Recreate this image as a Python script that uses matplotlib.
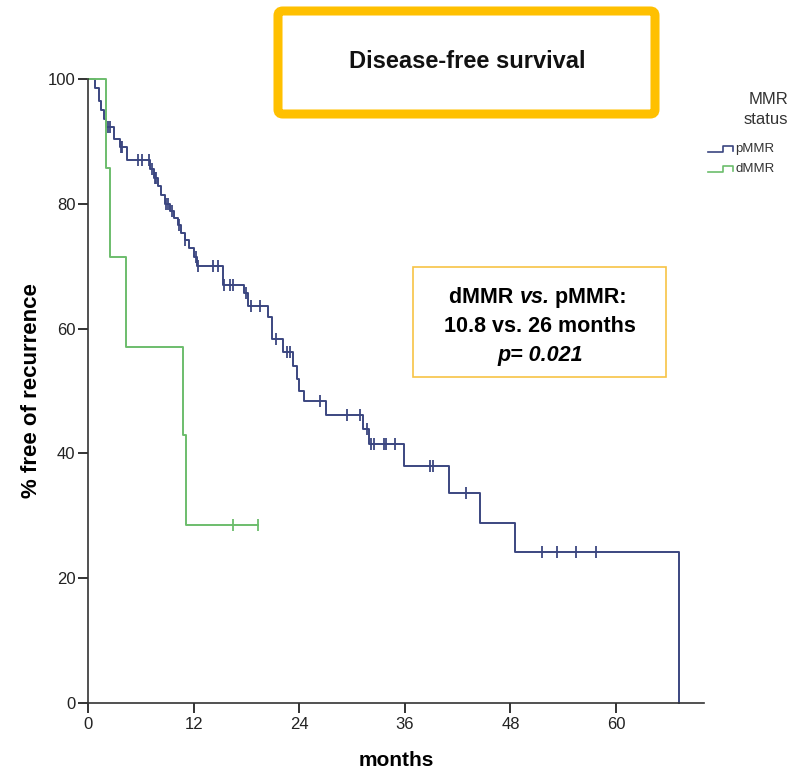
import numpy as np
import matplotlib
matplotlib.use("Agg")
import matplotlib.pyplot as plt
from matplotlib.lines import Line2D
from matplotlib.patches import FancyBboxPatch, Rectangle

plt.rcParams['font.family'] = ['Liberation Sans', 'DejaVu Sans']

# pMMR: event times (months) and survival (%) right after each event
pmmr_event_t = [0.8, 1.3, 1.5, 1.8, 2.1, 2.9, 3.6, 4.4, 7.1, 7.5, 7.9, 8.3, 8.8,
                9.3, 9.8, 10.2, 10.6, 11.0, 11.5, 12.0, 12.4, 15.3, 17.7, 18.2,
                20.5, 20.9, 22.2, 23.3, 23.7, 24.0, 24.5, 27.1, 31.3, 31.9, 35.9,
                41.0, 44.5, 48.5, 67.2]
pmmr_surv = [98.6, 96.4, 95.0, 93.6, 92.3, 90.4, 89.1, 87.0, 85.6, 84.2, 82.8,
             81.4, 80.0, 78.9, 77.8, 76.6, 75.4, 74.2, 72.9, 71.5, 70.0, 67.0,
             65.7, 63.6, 61.9, 58.3, 56.3, 54.0, 52.0, 50.0, 48.4, 46.2, 43.9,
             41.5, 38.0, 33.7, 28.9, 24.2, 0.0]
pmmr_cens_t = [2.3, 2.5, 3.8, 3.9, 5.7, 6.1, 6.9, 7.3, 7.6, 7.7, 8.9, 9.1, 9.5,
               10.3, 11.0, 12.3, 12.5, 14.2, 14.8, 15.4, 16.1, 16.5, 18.0, 18.5,
               19.5, 21.4, 22.6, 22.9, 26.4, 29.4, 30.9, 31.7, 32.2, 32.5, 33.6,
               33.9, 34.9, 38.9, 39.2, 43.0, 51.6, 53.3, 55.5, 57.7]

# dMMR
dmmr_event_t = [2.1, 2.5, 4.3, 10.8, 11.1]
dmmr_surv = [85.7, 71.4, 57.1, 42.9, 28.6]
dmmr_cens_t = [16.5, 19.3]

x_ticks = [0, 12, 24, 36, 48, 60]
y_ticks = [0, 20, 40, 60, 80, 100]

blue = '#3b4680'
green = '#6cbd6c'


def km_xy(event_t, surv, last_t):
    xs = [0.0] + list(event_t)
    ys = [100.0] + list(surv)
    if last_t > xs[-1]:
        xs.append(last_t)
        ys.append(ys[-1])
    return np.array(xs), np.array(ys)


def surv_at(event_t, surv, t):
    idx = np.searchsorted(event_t, t, side='right')
    vals = np.concatenate([[100.0], surv])
    return vals[idx]


fig = plt.figure(figsize=(7.92, 7.71), dpi=100)
ax = fig.add_axes([88 / 792, 1 - 703 / 771, 616 / 792, 624 / 771])

for ev, sv, cens, col in [(pmmr_event_t, pmmr_surv, pmmr_cens_t, blue),
                          (dmmr_event_t, dmmr_surv, dmmr_cens_t, green)]:
    last = max(max(ev), max(cens))
    xs, ys = km_xy(ev, sv, last)
    ax.step(xs, ys, where='post', color=col, lw=1.4, clip_on=False)
    cy = surv_at(np.array(ev), np.array(sv), np.array(cens))
    ax.plot(cens, cy, ls='none', marker='|', ms=9, mew=1.3, color=col, clip_on=False)

ax.set_xlim(0, 70)
ax.set_ylim(0, 100)
ax.set_xticks(x_ticks)
ax.set_yticks(y_ticks)
for s in ['top', 'right']:
    ax.spines[s].set_visible(False)
for s in ['left', 'bottom']:
    ax.spines[s].set_color('#333333')
    ax.spines[s].set_linewidth(1.2)
ax.tick_params(axis='both', direction='out', length=7, width=1.4, color='#333333',
               labelsize=12, labelcolor='#222222')
ax.tick_params(axis='x', pad=3)
ax.tick_params(axis='y', pad=2)

ax.set_xlabel('months', fontsize=15, fontweight='bold', labelpad=14)
ax.set_ylabel('% free of recurrence', fontsize=16, fontweight='bold', labelpad=4)

# title box
fig.patches.append(FancyBboxPatch((278 / 792, 1 - 114 / 771), 377 / 792, 103 / 771,
                                  boxstyle='round,pad=0,rounding_size=0.006',
                                  transform=fig.transFigure, fill=False,
                                  edgecolor='#FFC000', lw=6.5))
fig.text(467 / 792, 1 - 62 / 771, 'Disease-free survival', ha='center', va='center',
         fontsize=17, fontweight='bold', color='#111111')

# stats box
fig.patches.append(Rectangle((413 / 792, 1 - 377 / 771), 253 / 792, 110 / 771,
                             transform=fig.transFigure, fill=False,
                             edgecolor='#F7C346', lw=1.2))
fs = 15.5
t1 = fig.text(0, 0, 'dMMR ', fontsize=fs, fontweight='bold')
t2 = fig.text(0, 0, 'vs.', fontsize=fs, fontweight='bold', style='italic')
t3 = fig.text(0, 0, ' pMMR:', fontsize=fs, fontweight='bold')
fig.canvas.draw()
r = fig.canvas.get_renderer()
w1 = t1.get_window_extent(r).width / 792
w2 = t2.get_window_extent(r).width / 792
w3 = t3.get_window_extent(r).width / 792
x0 = 538 / 792 - (w1 + w2 + w3) / 2
yb = 1 - 303 / 771
t1.set_position((x0, yb))
t2.set_position((x0 + w1, yb))
t3.set_position((x0 + w1 + w2, yb))
for t in (t1, t2, t3):
    t.set_va('baseline')
    t.set_ha('left')
fig.text(540 / 792, 1 - 326 / 771, '10.8 vs. 26 months', ha='center', va='center',
         fontsize=fs, fontweight='bold')
fig.text(540 / 792, 1 - 356 / 771, 'p= 0.021', ha='center', va='center',
         fontsize=fs, fontweight='bold', style='italic')

# legend
fig.text(788 / 792, 1 - 100 / 771, 'MMR', ha='right', va='center', fontsize=12, color='#333333')
fig.text(788 / 792, 1 - 120 / 771, 'status', ha='right', va='center', fontsize=12, color='#333333')
for label, col, ybase in [('pMMR', blue, 152), ('dMMR', green, 172)]:
    gx = np.array([708, 723, 723, 733, 733]) / 792
    gy = 1 - np.array([ybase, ybase, ybase - 6, ybase - 6, ybase - 1]) / 771
    fig.add_artist(Line2D(gx, gy, color=col, lw=1.2, transform=fig.transFigure))
    fig.text(735 / 792, 1 - (ybase - 3) / 771, label, ha='left', va='center',
             fontsize=9.5, color='#333333')

fig.savefig('out.png', dpi=100)
